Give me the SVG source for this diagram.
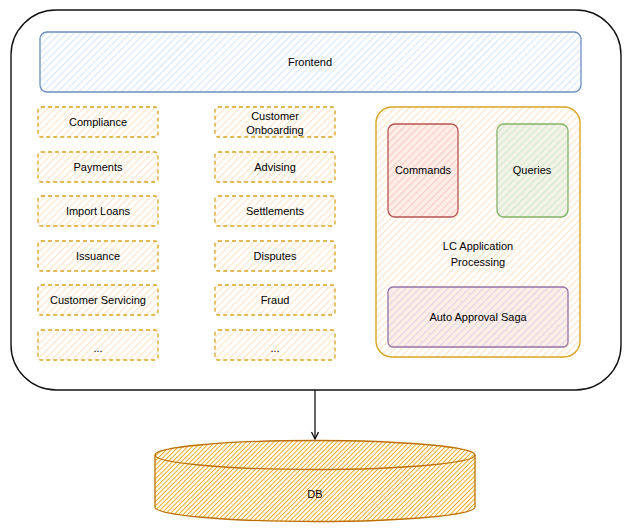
<svg xmlns="http://www.w3.org/2000/svg" width="631" height="531" viewBox="0 0 631 531">
<defs>
<pattern id="hBlue" width="5" height="5" patternUnits="userSpaceOnUse" patternTransform="rotate(45)"><rect width="5" height="5" fill="#fff"/><line x1="0" y1="0" x2="0" y2="5" stroke="#dae8fc" stroke-width="2.5"/></pattern>
<pattern id="hOrange" width="5" height="5" patternUnits="userSpaceOnUse" patternTransform="rotate(45)"><rect width="5" height="5" fill="#fff"/><line x1="0" y1="0" x2="0" y2="5" stroke="#ffe6cc" stroke-width="2.5"/></pattern>
<pattern id="hRed" width="5" height="5" patternUnits="userSpaceOnUse" patternTransform="rotate(45)"><rect width="5" height="5" fill="#fdeee6"/><line x1="0" y1="0" x2="0" y2="5" stroke="#f8cecc" stroke-width="2.5"/></pattern>
<pattern id="hGreen" width="5" height="5" patternUnits="userSpaceOnUse" patternTransform="rotate(45)"><rect width="5" height="5" fill="#f3f3e6"/><line x1="0" y1="0" x2="0" y2="5" stroke="#d5e8d4" stroke-width="2.5"/></pattern>
<pattern id="hPurple" width="5" height="5" patternUnits="userSpaceOnUse" patternTransform="rotate(45)"><rect width="5" height="5" fill="#fdeee6"/><line x1="0" y1="0" x2="0" y2="5" stroke="#e1d5e7" stroke-width="2.5"/></pattern>
<pattern id="hDB" width="3.2" height="3.2" patternUnits="userSpaceOnUse" patternTransform="rotate(45)"><rect width="3.2" height="3.2" fill="#fff"/><line x1="0" y1="0" x2="0" y2="3.2" stroke="#f0a30a" stroke-width="1.8"/></pattern>
<marker id="arr" markerWidth="12" markerHeight="12" refX="10" refY="6" orient="auto" markerUnits="userSpaceOnUse" viewBox="0 0 12 12"><path d="M3,2.5 L10,6 L3,9.5" fill="none" stroke="#000" stroke-width="1.2"/></marker>
</defs>
<style>
text{font-family:"Liberation Sans","DejaVu Sans",sans-serif;font-size:11px;fill:#000;text-anchor:middle;dominant-baseline:central}
.svc{fill:url(#hOrange);stroke:#d9a520;stroke-width:1.3;stroke-dasharray:4 3}
</style>
<rect width="631" height="531" fill="#fff"/>
<g id="outer"><rect x="11" y="10" width="610" height="380" rx="45" fill="none" stroke="#111" stroke-width="1.4"/></g>
<g id="frontend"><rect x="40" y="32" width="541" height="60" rx="7" fill="url(#hBlue)" stroke="#6c8ebf" stroke-width="1.3"/><text x="310" y="62">Frontend</text></g>
<g id="compliance"><rect class="svc" x="38" y="107" width="120" height="30" rx="3"/><text x="98" y="122">Compliance</text></g>
<g id="payments"><rect class="svc" x="38" y="152" width="120" height="30" rx="3"/><text x="98" y="167">Payments</text></g>
<g id="import-loans"><rect class="svc" x="38" y="196" width="120" height="30" rx="3"/><text x="98" y="211">Import Loans</text></g>
<g id="issuance"><rect class="svc" x="38" y="241" width="120" height="30" rx="3"/><text x="98" y="256">Issuance</text></g>
<g id="customer-servicing"><rect class="svc" x="38" y="285" width="120" height="30" rx="3"/><text x="98" y="300">Customer Servicing</text></g>
<g id="more-left"><rect class="svc" x="38" y="330" width="120" height="30" rx="3"/><text x="98" y="348">...</text></g>
<g id="customer-onboarding"><rect class="svc" x="215" y="107" width="120" height="30" rx="3"/><text x="275" y="116">Customer</text><text x="275" y="130">Onboarding</text></g>
<g id="advising"><rect class="svc" x="215" y="152" width="120" height="30" rx="3"/><text x="275" y="167">Advising</text></g>
<g id="settlements"><rect class="svc" x="215" y="196" width="120" height="30" rx="3"/><text x="275" y="211">Settlements</text></g>
<g id="disputes"><rect class="svc" x="215" y="241" width="120" height="30" rx="3"/><text x="275" y="256">Disputes</text></g>
<g id="fraud"><rect class="svc" x="215" y="285" width="120" height="30" rx="3"/><text x="275" y="300">Fraud</text></g>
<g id="more-mid"><rect class="svc" x="215" y="330" width="120" height="30" rx="3"/><text x="275" y="348">...</text></g>
<g id="lc-application"><rect x="376" y="107" width="204" height="250" rx="16" fill="url(#hOrange)" stroke="#d9a520" stroke-width="1.4"/><text x="478" y="246">LC Application</text><text x="478" y="262">Processing</text></g>
<g id="commands"><rect x="388" y="124" width="70" height="93" rx="7" fill="url(#hRed)" stroke="#b85450" stroke-width="1.3"/><text x="423" y="170">Commands</text></g>
<g id="queries"><rect x="497" y="124" width="71" height="93" rx="7" fill="url(#hGreen)" stroke="#82b366" stroke-width="1.3"/><text x="532" y="170">Queries</text></g>
<g id="saga"><rect x="388" y="287" width="180" height="60" rx="5" fill="url(#hPurple)" stroke="#9673a6" stroke-width="1.3"/><text x="478" y="317">Auto Approval Saga</text></g>
<g id="db"><path d="M155,455 L155,507 A160,14.5 0 0 0 475,507 L475,455 A160,14.5 0 0 0 155,455 Z" fill="url(#hDB)" stroke="#bd7000" stroke-width="1.3"/><path d="M155,455 A160,14.5 0 0 0 475,455" fill="none" stroke="#bd7000" stroke-width="1.3"/><text x="315" y="494" font-size="10">DB</text></g>
<g id="connectors"><line x1="315" y1="390" x2="315" y2="439" stroke="#000" stroke-width="1.2" marker-end="url(#arr)"/></g>
</svg>
